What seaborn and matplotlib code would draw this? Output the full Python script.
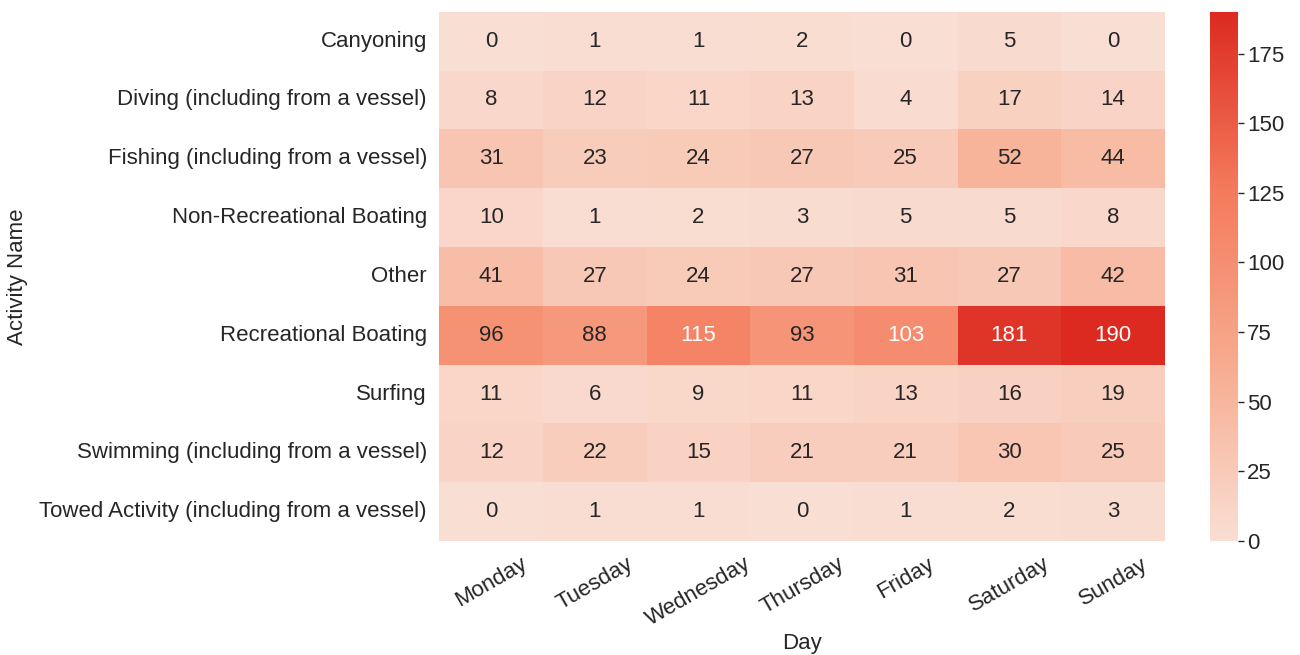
import pandas as pd
import matplotlib.pyplot as plt
import seaborn as sns

activities = [
    "Canyoning",
    "Diving (including from a vessel)",
    "Fishing (including from a vessel)",
    "Non-Recreational Boating",
    "Other",
    "Recreational Boating",
    "Surfing",
    "Swimming (including from a vessel)",
    "Towed Activity (including from a vessel)",
]
days = ["Monday", "Tuesday", "Wednesday", "Thursday", "Friday", "Saturday", "Sunday"]

counts = [
    [0, 1, 1, 2, 0, 5, 0],
    [8, 12, 11, 13, 4, 17, 14],
    [31, 23, 24, 27, 25, 52, 44],
    [10, 1, 2, 3, 5, 5, 8],
    [41, 27, 24, 27, 31, 27, 42],
    [96, 88, 115, 93, 103, 181, 190],
    [11, 6, 9, 11, 13, 16, 19],
    [12, 22, 15, 21, 21, 30, 25],
    [0, 1, 1, 0, 1, 2, 3],
]

df = pd.DataFrame(counts, index=activities, columns=days)
df.index.name = "Activity Name"
df.columns.name = "Day"

sns.set_theme(style="white", font_scale=1.4)
plt.rcParams["font.family"] = ["Liberation Sans", "DejaVu Sans"]

# peach -> red colour ramp
cmap = sns.blend_palette(["#f9ded3", "#f7ab8f", "#f47a5b", "#dc2a21"], as_cmap=True)

fig = plt.figure(figsize=(13, 6.55), dpi=100)
ax = fig.add_axes([0.338, 0.174, 0.558, 0.808])
cax = fig.add_axes([0.931, 0.174, 0.021, 0.808])

sns.heatmap(df, annot=True, fmt="d", cmap=cmap, ax=ax, cbar_ax=cax,
            annot_kws={"size": 16})

ax.set_xlabel("Day", fontsize=16, labelpad=2)
ax.set_ylabel("Activity Name", fontsize=16, labelpad=8)
ax.tick_params(axis="both", labelsize=16, pad=3)
plt.setp(ax.get_xticklabels(), rotation=30)
plt.setp(ax.get_yticklabels(), rotation=0)
cax.tick_params(length=4, width=1, color="#262626", pad=3, labelsize=16)

fig.savefig("out.png")
